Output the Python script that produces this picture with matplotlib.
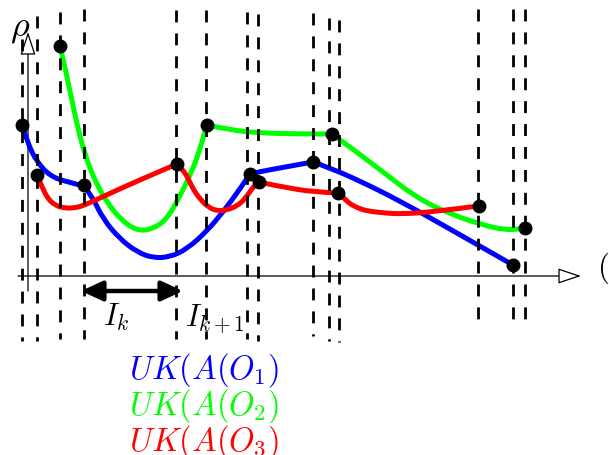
import matplotlib
matplotlib.use("Agg")
import matplotlib.pyplot as plt
from matplotlib.path import Path
from matplotlib.patches import PathPatch

plt.rcParams['mathtext.fontset'] = 'cm'
plt.rcParams['lines.scale_dashes'] = False

# curves (picture coordinates, y grows downwards)
blue_x = [22, 28, 37, 50, 67, 84, 92, 103, 120, 137, 153, 170, 187, 207, 223, 240, 250,
          258, 285, 313, 330, 360, 400, 450, 513]
blue_y = [126, 145, 163, 177, 183, 187, 197, 220, 240, 253, 259, 258, 250, 232, 213, 190, 175,
          173, 168, 163, 169, 182, 202, 230, 266]

green_x = [60, 67, 75, 85, 97, 107, 120, 137, 153, 167, 180, 193, 200, 207,
           230, 260, 300, 332, 350, 383, 417, 450, 483, 505, 520, 525]
green_y = [47, 77, 117, 157, 186, 203, 220, 232, 230, 220, 197, 170, 150, 126,
           131, 134, 135, 135, 148, 173, 199, 215, 226, 231, 230, 229]

red_x = [37, 42, 48, 55, 63, 75, 85, 100, 137, 177, 182, 187, 193, 200, 208, 217, 227,
         237, 245, 253, 258, 283, 313, 338, 345, 350, 358, 367, 385, 400, 433, 478]
red_y = [176, 188, 200, 206, 209, 209, 206, 199, 182, 165, 170, 177, 190, 200, 208, 212, 211,
         207, 200, 188, 183, 188, 193, 194, 200, 205, 209, 212, 214, 215, 213, 207]

blue_dots = [(22, 126), (84, 186), (250, 175), (313, 163), (513, 266)]
green_dots = [(60, 47), (207, 126), (332, 135), (525, 229)]
red_dots = [(37, 176), (177, 165), (259, 183), (338, 194), (479, 207)]

# dashed verticals: x, top, bottom
dash_x = [22, 37, 60, 84, 176, 206, 247, 258, 313, 329, 339, 478, 513, 525]
dash_top = [40, 17, 13, 10, 11, 11, 13, 15, 14, 19, 21, 10, 10, 10]
dash_bot = [342, 342, 340, 340, 340, 340, 340, 342, 337, 342, 343, 330, 330, 330]

labels = ['$UK(A(O_1)$', '$UK(A(O_2)$', '$UK(A(O_3)$']
colors = ['#0000ff', '#00ff00', '#ff0000']


def smooth_path(xs, ys, corner_xs):
    # quadratic bezier through the read points, sharp at the dots
    pts = list(zip(xs, ys))
    cut = [0] + [i for i in range(1, len(pts) - 1)
                 if any(abs(pts[i][0] - c) <= 1 for c in corner_xs)] + [len(pts) - 1]
    verts, codes = [pts[0]], [Path.MOVETO]
    for a, b in zip(cut[:-1], cut[1:]):
        piece = pts[a:b + 1]
        if len(piece) == 2:
            verts.append(piece[1]); codes.append(Path.LINETO)
            continue
        for j in range(1, len(piece) - 1):
            if j < len(piece) - 2:
                end = ((piece[j][0] + piece[j + 1][0]) / 2, (piece[j][1] + piece[j + 1][1]) / 2)
            else:
                end = piece[j + 1]
            verts += [piece[j], end]
            codes += [Path.CURVE3, Path.CURVE3]
    return Path(verts, codes)


fig = plt.figure(figsize=(6.09, 4.56), dpi=100)
ax = fig.add_axes([0, 0, 1, 1])
ax.set_xlim(0, 609)
ax.set_ylim(456, 0)
ax.axis('off')

# axes with open arrow heads
ax.annotate('', xy=(581, 277), xytext=(18, 277),
            arrowprops=dict(arrowstyle='-|>,head_length=0.9,head_width=0.3',
                            fc='white', ec='black', lw=0.9, mutation_scale=16,
                            shrinkA=0, shrinkB=0), zorder=2)
ax.annotate('', xy=(28, 33), xytext=(28, 292),
            arrowprops=dict(arrowstyle='-|>,head_length=0.9,head_width=0.3',
                            fc='white', ec='black', lw=0.9, mutation_scale=16,
                            shrinkA=0, shrinkB=0), zorder=2)
ax.text(20, 28, r'$\rho$', fontsize=26, ha='center', va='center')
ax.text(597, 268, r'$($', fontsize=22, ha='left', va='center')

for xs, ys, dots, c in [(blue_x, blue_y, blue_dots, colors[0]),
                        (green_x, green_y, green_dots, colors[1]),
                        (red_x, red_y, red_dots, colors[2])]:
    ax.add_patch(PathPatch(smooth_path(xs, ys, [d[0] for d in dots]), fill=False,
                           ec=c, lw=3.6, joinstyle='round', capstyle='round', zorder=3))
    ax.plot([d[0] for d in dots], [d[1] for d in dots], 'o', color='black', ms=9, zorder=4)

for x, t, b in zip(dash_x, dash_top, dash_bot):
    ax.plot([x, x], [t, b], color='black', lw=2.0, linestyle=(0, (8.6, 7.9)), zorder=5)

# interval arrow
ax.annotate('', xy=(183, 292), xytext=(81, 292),
            arrowprops=dict(arrowstyle='<|-|>,head_length=0.65,head_width=0.3',
                            fc='black', ec='black', lw=3.2, mutation_scale=20,
                            shrinkA=0, shrinkB=0), zorder=6)
ax.text(103, 326, '$I_k$', fontsize=22, ha='left', va='baseline')
ax.text(185, 326, '$I_{k+1}$', fontsize=22, ha='left', va='baseline')

for i, (lab, c) in enumerate(zip(labels, colors)):
    ax.text(129, 379 + 36 * i, lab, fontsize=23.5, color=c, ha='left', va='baseline')

fig.savefig('out.png', dpi=100)
